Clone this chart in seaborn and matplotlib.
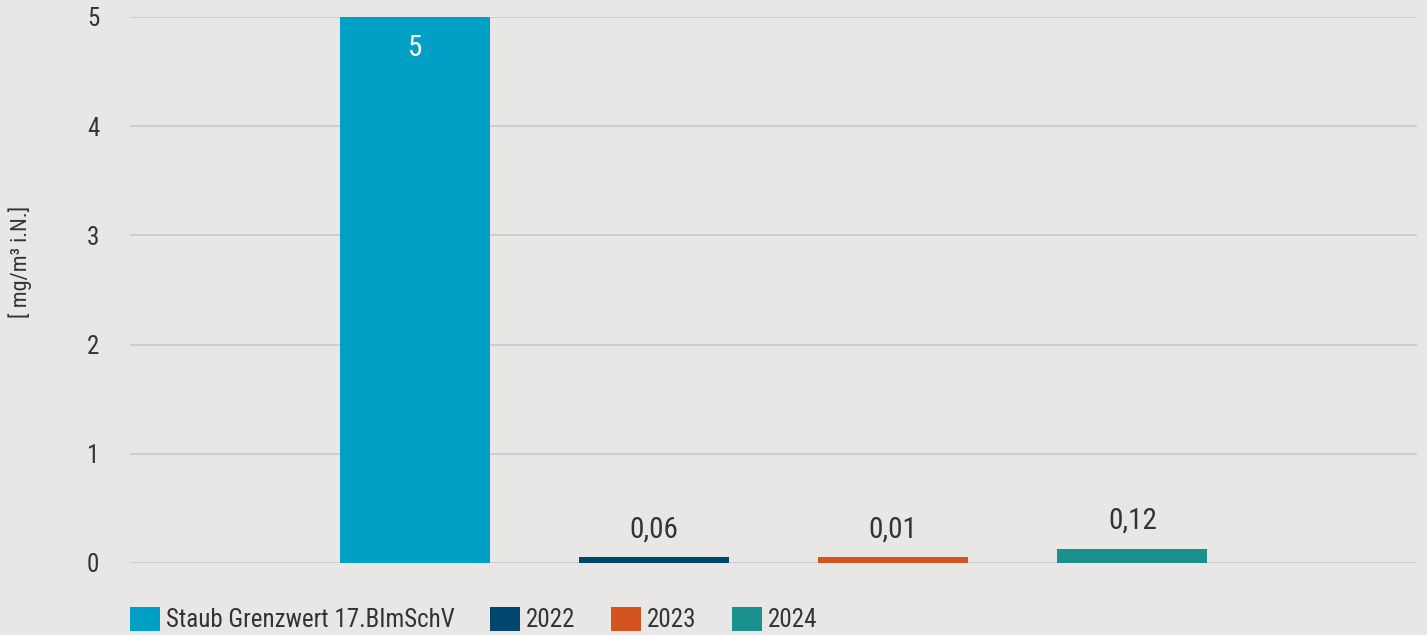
import matplotlib
matplotlib.use("Agg")
import matplotlib.pyplot as plt
import seaborn as sns
import pandas as pd
from matplotlib.patches import Patch

# Data
series = ["Staub Grenzwert 17.BImSchV", "2022", "2023", "2024"]
bar_heights = [5, 0.055, 0.055, 0.13]   # drawn heights as seen in the picture
value_labels = ["5", "0,06", "0,01", "0,12"]
colors = ["#009fc5", "#00466d", "#d4531f", "#1a918f"]
yticks = [0, 1, 2, 3, 4, 5]

bg = "#e8e7e5"
txt = "#333333"
sns.set_style("white")
plt.rcParams["font.family"] = ["Roboto Condensed", "Liberation Sans Narrow", "Roboto", "DejaVu Sans"]

df = pd.DataFrame({"series": series, "value": bar_heights})

fig = plt.figure(figsize=(14.27, 6.35), dpi=100, facecolor=bg)
ax = fig.add_axes([130 / 1427, 1 - 563 / 635, (1417 - 130) / 1427, (563 - 17) / 635])
ax.set_facecolor(bg)

sns.barplot(data=df, x="series", y="value", hue="series", palette=colors,
            width=0.626, saturation=1, linewidth=0, legend=False, ax=ax, zorder=3)

ax.set_xlim(-1.19, 4.19)
ax.set_ylim(0, 5)
ax.set_yticks(yticks)
ax.set_yticklabels([str(t) for t in yticks], fontsize=18, color=txt)
ax.tick_params(axis="y", length=0, pad=22)
ax.set_xticks([])
ax.set_xlabel("")
ax.set_ylabel("")
ax.grid(axis="y", color="#c9c8d0", linewidth=1.2, zorder=0)
for s in ax.spines.values():
    s.set_visible(False)

fig.text(20 / 1427, 1 - 262 / 635, "[ mg/m³ i.N.]", rotation=90, ha="center",
         va="center", fontsize=16, color=txt)

# value labels
for i, (h, lab) in enumerate(zip(bar_heights, value_labels)):
    if h > 1:
        ax.annotate(lab, (i, h), xytext=(0, -12), textcoords="offset points",
                    ha="center", va="top", fontsize=21, color="white")
    else:
        ax.annotate(lab, (i, h), xytext=(0, 10), textcoords="offset points",
                    ha="center", va="bottom", fontsize=21, color=txt)

handles = [Patch(facecolor=c, edgecolor="none", label=s) for s, c in zip(series, colors)]
fig.legend(handles=handles, loc="lower left", bbox_to_anchor=(130 / 1427, 3 / 635),
           borderpad=0, borderaxespad=0,
           ncol=4, frameon=False, fontsize=18, handlelength=1.2, handleheight=1.1,
           handletextpad=0.25, columnspacing=1.4, labelcolor=txt)

fig.savefig("out.png", dpi=100, facecolor=bg)
